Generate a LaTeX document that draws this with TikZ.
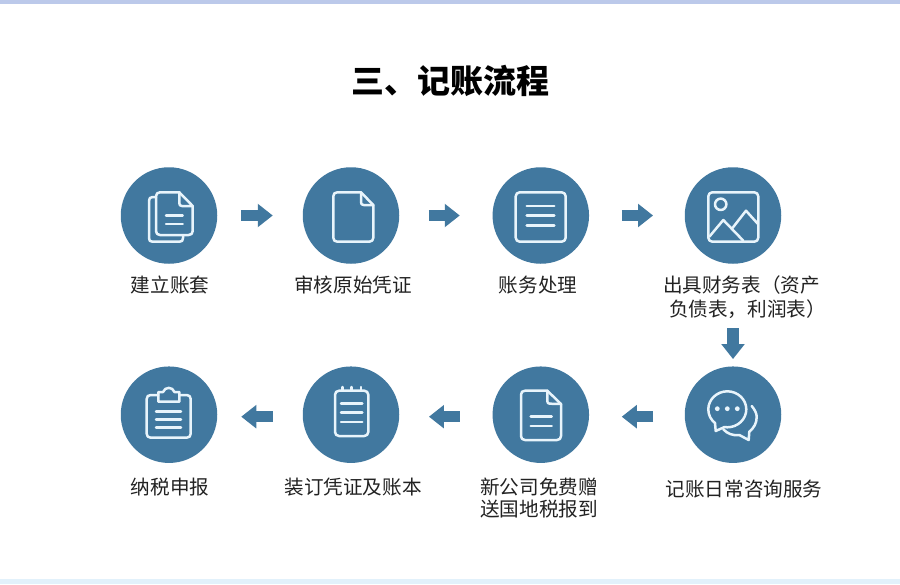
\documentclass[tikz,border=0pt]{standalone}
\usepackage{fontspec}
\setmainfont{Noto Sans CJK SC}
\usetikzlibrary{arrows.meta}
\definecolor{disc}{HTML}{41789F}
\definecolor{ink}{HTML}{E8F4FB}
\definecolor{topbar}{HTML}{BCC9EA}
\definecolor{botbar}{HTML}{E2F1FB}
\definecolor{txt}{HTML}{222222}
\tikzset{
  x=1pt,y=-1pt,
  disc/.style={circle,fill=disc,minimum size=96.5pt,inner sep=0pt,outer sep=0pt},
  icon/.style={draw=ink,line width=2.5pt,line join=round,line cap=round},
  flowarrow/.style={draw=disc,line width=11.5pt,-{Triangle[length=15pt,width=22.5pt]}},
  lab/.style={font=\fontsize{19.6pt}{24pt}\selectfont,text=txt,align=center,inner sep=0pt,anchor=center},
  labb/.style={lab,font=\fontsize{19.6pt}{22pt}\selectfont},
  ttl/.style={font=\bfseries\fontsize{33pt}{38pt}\selectfont,text=black,inner sep=0pt}
}
\begin{document}
\begin{tikzpicture}
\useasboundingbox (0,0) rectangle (900,584);
\fill[white] (0,0) rectangle (900,584);
\fill[topbar] (0,0) rectangle (900,3.5);
\fill[botbar] (0,579) rectangle (900,584);
\node[ttl] (title) at (450,81) {三、记账流程};
% discs
\node[disc] (a1) at (169,215.5) {};
\node[disc] (a2) at (351,215.5) {};
\node[disc] (a3) at (540.8,215.5) {};
\node[disc] (a4) at (733,215.5) {};
\node[disc] (b1) at (169,414.7) {};
\node[disc] (b2) at (351,414.7) {};
\node[disc] (b3) at (540.8,414.7) {};
\node[disc] (b4) at (733,414.7) {};
% labels
\node[lab] (la1) at (170,285) {建立账套};
\node[lab] (la2) at (353,285) {审核原始凭证};
\node[lab] (la3) at (538,285) {账务处理};
\node[lab] (la4) at (744.5,297) {出具财务表（资产\hspace*{6pt}\\\hspace*{6pt}负债表，利润表）};
\node[labb] (lb1) at (170,487) {纳税申报};
\node[labb] (lb2) at (353,487) {装订凭证及账本};
\node[labb] (lb3) at (539,498) {新公司免费赠\\送国地税报到};
\node[labb] (lb4) at (744,489) {记账日常咨询服务};
% arrows
\draw[flowarrow,shorten <=24pt,shorten >=30pt] (a1.east) -- (a2.west);
\draw[flowarrow,shorten <=29.7pt,shorten >=32.8pt] (a2.east) -- (a3.west);
\draw[flowarrow,shorten <=32.7pt,shorten >=31.7pt] (a3.east) -- (a4.west);
\draw[flowarrow,shorten <=64.3pt,shorten >=7.4pt] (a4.south) -- (b4.north);
\draw[flowarrow,shorten <=31.7pt,shorten >=32.7pt] ([yshift=-2pt]b4.west) -- ([yshift=-2pt]b3.east);
\draw[flowarrow,shorten <=32.8pt,shorten >=29.7pt] ([yshift=-2pt]b3.west) -- ([yshift=-2pt]b2.east);
\draw[flowarrow,shorten <=30pt,shorten >=24pt] ([yshift=-2pt]b2.west) -- ([yshift=-2pt]b1.east);
% icon 1
\draw[icon] (156,197) -- (152.5,197) .. controls (150,197) and (149,198.5) .. (149,201) -- (149,238) .. controls (149,240.5) and (150,241.7) .. (152.5,241.7) -- (179.5,241.7) .. controls (182,241.7) and (183,240.5) .. (183,238) -- (183,235);
\draw[icon] (179.3,192.3) -- (160,192.3) .. controls (157.5,192.3) and (156,193.8) .. (156,196.3) -- (156,231) .. controls (156,233.5) and (157.5,235) .. (160,235) -- (188.7,235) .. controls (191.2,235) and (192.7,233.5) .. (192.7,231) -- (192.7,206) -- cycle;
\draw[icon] (179.3,192.3) -- (179.3,203) .. controls (179.3,205) and (180,206) .. (182,206) -- (192.7,206);
\draw[icon] (166,215.3) -- (182.7,215.3) (166,224) -- (182.7,224);
% icon 2
\draw[icon] (361,192.3) -- (337.3,192.3) .. controls (334.8,192.3) and (333.3,193.8) .. (333.3,196.3) -- (333.3,237.7) .. controls (333.3,240.2) and (334.8,241.7) .. (337.3,241.7) -- (369.3,241.7) .. controls (371.8,241.7) and (373.3,240.2) .. (373.3,237.7) -- (373.3,205) -- cycle;
\draw[icon] (361,192.3) -- (361,202) .. controls (361,204) and (361.7,205) .. (363.7,205) -- (373.3,205);
% icon 3
\draw[icon,rounded corners=4pt] (515.7,192.3) rectangle (565.7,241.7);
\draw[icon] (526.7,206) -- (554.3,206) (526.7,215.7) -- (554.3,215.7) (526.7,225.3) -- (554.3,225.3);
% icon 4
\draw[icon,rounded corners=4pt] (708.3,192.3) rectangle (758.3,241.7);
\draw[icon] (720.7,204.3) circle[radius=5.7];
\draw[icon] (709.5,236.5) -- (723.3,220) -- (743.3,240.7);
\draw[icon] (731.7,229) -- (746,210.7) -- (758,224);
% icon 5: clipboard
\draw[icon] (158.3,395) -- (150.7,395) .. controls (148.2,395) and (146.7,396.5) .. (146.7,399) -- (146.7,433.7) .. controls (146.7,436.2) and (148.2,437.7) .. (150.7,437.7) -- (186.7,437.7) .. controls (189.2,437.7) and (190.7,436.2) .. (190.7,433.7) -- (190.7,399) .. controls (190.7,396.5) and (189.2,395) .. (186.7,395) -- (179.3,395);
\draw[icon] (158.3,401.7) -- (158.3,392) -- (163,392) .. controls (165,386.5) and (172.5,386.5) .. (174.5,392) -- (179.3,392) -- (179.3,401.7) -- cycle;
\draw[icon] (156,411.3) -- (181,411.3) (156,419.3) -- (181,419.3) (156,427.3) -- (181,427.3);
% icon 6: notebook
\draw[icon,rounded corners=4pt] (335,390.7) rectangle (368.3,436);
\draw[icon] (342.3,387) -- (342.3,390.7) (351.7,387) -- (351.7,390.7) (361,387) -- (361,390.7);
\draw[icon] (341,403.3) -- (362.3,403.3) (341,412.7) -- (362.3,412.7) (341,422) -- (362.3,422);
% icon 7: document
\draw[icon] (547.3,390.7) -- (525,390.7) .. controls (522.5,390.7) and (521,392.2) .. (521,394.7) -- (521,436) .. controls (521,438.5) and (522.5,440) .. (525,440) -- (557,440) .. controls (559.5,440) and (561,438.5) .. (561,436) -- (561,404) -- cycle;
\draw[icon] (547.3,390.7) -- (547.3,401) .. controls (547.3,403) and (548,403.7) .. (550,403.7) -- (561,404);
\draw[icon] (530.7,416.7) -- (551.7,416.7) (530.7,426) -- (551.7,426);
% icon 8: chat
\draw[icon] (715,423) .. controls (711,420) and (708.3,415) .. (708.3,409.3) .. controls (708.3,399.4) and (717,391.3) .. (727.3,391.3) .. controls (737.8,391.3) and (746.3,399.4) .. (746.3,409.3) .. controls (746.3,419.2) and (737.8,427.3) .. (727.3,427.3) -- (724.5,427) -- (715.7,431) -- cycle;
\draw[icon] (751.7,406) .. controls (755,410) and (756.7,413.5) .. (756.7,417) .. controls (756.7,423) and (754,428) .. (749.3,431.7) -- (748.7,440) -- (739.3,435) .. controls (733,436) and (727,433.5) .. (723.3,429.3);
\fill[ink] (717.3,408.7) circle[radius=2.4] (727.3,408.7) circle[radius=2.4] (737.3,408.7) circle[radius=2.4];
\end{tikzpicture}
\end{document}
